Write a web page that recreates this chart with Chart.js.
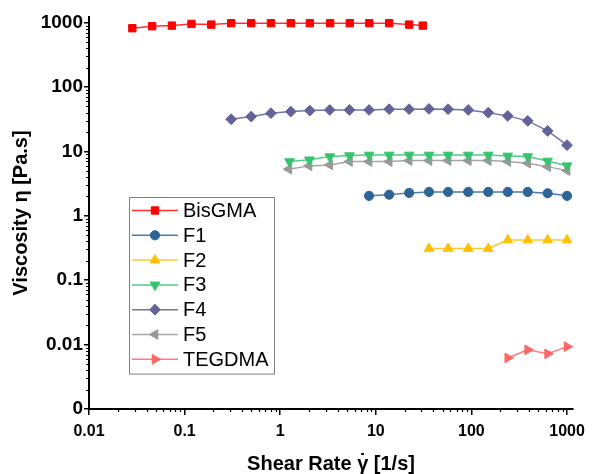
<!DOCTYPE html>
<html>
<head>
<meta charset="utf-8">
<script src="https://cdn.jsdelivr.net/npm/chart.js"></script>
<style>
  body { margin: 0; background: #fff; }
</style>
</head>
<body>
<canvas id="visc" width="592" height="474"></canvas>
<script>
// shear rate grids (1/s) and viscosities (Pa.s)
const bisgmaX = [0.0284, 0.0458, 0.0736, 0.118, 0.19, 0.307, 0.497, 0.8, 1.29, 2.04, 3.33, 5.34, 8.55, 13.8, 22.3, 31]
const bisgmaY = [818, 879, 898, 955, 931, 979, 979, 979, 979, 979, 979, 979, 979, 979, 931, 898]

const f1X = [8.5, 13.8, 22.3, 36, 57, 92.6, 150, 240, 388, 627, 1000]
const f1Y = [2.04, 2.13, 2.27, 2.35, 2.35, 2.35, 2.35, 2.35, 2.35, 2.24, 2.04]

const f2X = [36, 57, 92.6, 150, 240, 388, 627, 1000]
const f2Y = [0.31, 0.31, 0.31, 0.31, 0.42, 0.42, 0.42, 0.42]

const f3X = [1.25, 2.02, 3.3, 5.3, 8.5, 13.8, 22.3, 36, 57, 92.6, 150, 240, 388, 627, 1000]
const f3Y = [6.95, 7.4, 8.3, 8.6, 8.8, 8.8, 8.8, 8.8, 8.8, 8.8, 8.8, 8.5, 8.3, 7.1, 6.0]

const f4X = [0.307, 0.497, 0.8, 1.29, 2.04, 3.3, 5.3, 8.5, 13.8, 22.3, 36, 57, 92.6, 150, 240, 388, 627, 1000]
const f4Y = [31.6, 34.8, 39.2, 41.5, 43, 44, 44, 44, 45.2, 45.2, 45.7, 45.2, 44, 40, 35.6, 29.8, 20.8, 12.5]

const f5X = [1.23, 2.0, 3.3, 5.3, 8.5, 13.8, 22.3, 36, 57, 92.6, 150, 240, 388, 627, 1000]
const f5Y = [5.3, 5.96, 6.17, 6.95, 6.95, 6.95, 7.2, 7.2, 7.2, 7.2, 7.2, 6.95, 6.56, 5.8, 5.03]

const tegdmaX = [240, 388, 627, 1000]
const tegdmaY = [0.0062, 0.0083, 0.0072, 0.0093]

const xTicks = [0.01, 0.1, 1, 10, 100, 1000]
const xTickLabels = ["0.01", "0.1", "1", "10", "100", "1000"]
const yTicks = [0.001, 0.01, 0.1, 1, 10, 100, 1000]
const yTickLabels = ["0", "0.01", "0.1", "1", "10", "100", "1000"]

const FONT = 'Arial, "Liberation Sans", sans-serif'
const X_TITLE_PRE = "Shear Rate "
const X_TITLE = X_TITLE_PRE + "\u03b3 [1/s]"

function pts(xs, ys) {
    return xs.map((x, i) => ({x: x, y: ys[i]}))
}

function series(label, xs, ys, marker, line, style, radius, rot) {
    return {
        label: label,
        data: pts(xs, ys),
        borderColor: line,
        borderWidth: 1.5,
        backgroundColor: marker,
        pointBackgroundColor: marker,
        pointBorderColor: marker,
        pointBorderWidth: 1,
        pointStyle: style,
        pointRadius: radius,
        pointRotation: rot || 0,
        tension: 0,
        fill: false
    }
}

const datasets = [
    series("BisGMA", bisgmaX, bisgmaY, "#ff0000", "#ff3030", "rect", 5.2),
    series("F1", f1X, f1Y, "#2e6496", "#4a7bb0", "circle", 4.6),
    series("F2", f2X, f2Y, "#ffc000", "#ffc833", "triangle", 5.6),
    series("F3", f3X, f3Y, "#35c46c", "#50cc80", "triangle", 5.6, 180),
    series("F4", f4X, f4Y, "#636399", "#7474a8", "rectRot", 5.4),
    series("F5", f5X, f5Y, "#999999", "#a6a6a6", "triangle", 5.6, 270),
    series("TEGDMA", tegdmaX, tegdmaY, "#ff6666", "#ff7a7a", "triangle", 5.6, 90),
]

// short ticks between the decades
const minorTicks = {
    id: "minorTicks",
    afterDraw(chart) {
        const ctx = chart.ctx
        const xs = chart.scales.x, ys = chart.scales.y
        ctx.save()
        ctx.strokeStyle = "#000"
        ctx.lineWidth = 1.2
        ctx.beginPath()
        for (let e = -3; e <= 3; e++) {
            for (let k = 2; k <= 9; k++) {
                const v = k * Math.pow(10, e)
                if (v > xs.min && v < xs.max) {
                    const px = Math.round(xs.getPixelForValue(v)) + 0.5
                    ctx.moveTo(px, xs.top)
                    ctx.lineTo(px, xs.top + 3)
                }
                if (v > ys.min && v < ys.max) {
                    const py = Math.round(ys.getPixelForValue(v)) + 0.5
                    ctx.moveTo(ys.right, py)
                    ctx.lineTo(ys.right - 3, py)
                }
            }
        }
        ctx.stroke()
        ctx.restore()
    }
}

// overdot on the gamma of the x title (shear rate)
const gammaDot = {
    id: "gammaDot",
    afterDraw(chart) {
        const ctx = chart.ctx
        const xs = chart.scales.x
        ctx.save()
        ctx.font = "bold 20px " + FONT
        const full = ctx.measureText(X_TITLE).width
        const pre = ctx.measureText(X_TITLE_PRE).width
        const g = ctx.measureText("\u03b3").width
        const cx = (xs.left + xs.right) / 2 - full / 2 + pre + g / 2
        ctx.fillStyle = "#000"
        ctx.textAlign = "center"
        ctx.textBaseline = "middle"
        ctx.fillText("\u02d9", cx, 462)
        ctx.restore()
    }
}

// boxed legend inside the plot, line + marker per series
const boxLegend = {
    id: "boxLegend",
    afterDraw(chart) {
        const ctx = chart.ctx
        const ca = chart.chartArea
        const left = ca.left + 40, top = ca.top + 180
        const w = 145, rowH = 24.8
        const h = rowH * chart.data.datasets.length + 3
        ctx.save()
        ctx.fillStyle = "#fff"
        ctx.fillRect(left, top, w, h)
        ctx.strokeStyle = "#808080"
        ctx.lineWidth = 1
        ctx.strokeRect(left + 0.5, top + 0.5, w, h)
        chart.data.datasets.forEach((ds, i) => {
            const cy = top + 13.5 + i * rowH
            ctx.strokeStyle = ds.borderColor
            ctx.lineWidth = 1.5
            ctx.beginPath()
            ctx.moveTo(left + 3, cy)
            ctx.lineTo(left + 49, cy)
            ctx.stroke()
            ctx.fillStyle = ds.pointBackgroundColor
            ctx.strokeStyle = ds.pointBorderColor
            ctx.lineWidth = 1
            Chart.helpers.drawPoint(ctx, {
                pointStyle: ds.pointStyle,
                radius: ds.pointRadius,
                rotation: ds.pointRotation,
                borderWidth: 1
            }, left + 26, cy)
            ctx.fillStyle = "#000"
            ctx.font = "20px " + FONT
            ctx.textBaseline = "middle"
            ctx.textAlign = "left"
            ctx.fillText(ds.label, left + 54, cy + 1)
        })
        ctx.restore()
    }
}

const ctx = document.getElementById("visc")
const viscChart = new Chart(ctx, {
    type: "line",
    data: {datasets: datasets},
    plugins: [minorTicks, gammaDot, boxLegend],
    options: {
        responsive: false,
        animation: false,
        layout: {padding: {top: 17, right: 14, left: 0, bottom: 0}},
        plugins: {
            legend: {display: false},
            tooltip: {enabled: false}
        },
        scales: {
            x: {
                type: "logarithmic",
                min: 0.01,
                max: 1155,
                afterBuildTicks: s => { s.ticks = xTicks.map(v => ({value: v})) },
                afterFit: s => { s.height = 65 },
                grid: {display: true, drawOnChartArea: false, tickLength: 6, color: "#000", lineWidth: 1.5},
                border: {display: true, color: "#000", width: 2},
                ticks: {
                    autoSkip: false,
                    maxRotation: 0,
                    padding: 7,
                    color: "#000",
                    font: {family: FONT, size: 16, weight: "bold"},
                    callback: (v, i) => xTickLabels[i]
                },
                title: {
                    display: true,
                    text: X_TITLE,
                    color: "#000",
                    font: {family: FONT, size: 20, weight: "bold", lineHeight: 1},
                    padding: {top: 0, bottom: 0}
                }
            },
            y: {
                type: "logarithmic",
                min: 0.001,
                max: 1222,
                afterBuildTicks: s => { s.ticks = yTicks.map(v => ({value: v})) },
                afterFit: s => { s.width = 89 },
                grid: {display: true, drawOnChartArea: false, tickLength: 5, color: "#000", lineWidth: 1.5},
                border: {display: true, color: "#000", width: 2},
                ticks: {
                    autoSkip: false,
                    padding: 1,
                    color: "#000",
                    font: {family: FONT, size: 19, weight: "bold"},
                    callback: (v, i) => yTickLabels[i]
                },
                title: {
                    display: true,
                    text: "Viscosity \u03b7 [Pa.s]",
                    color: "#000",
                    font: {family: FONT, size: 20, weight: "bold", lineHeight: 1.2},
                    padding: {top: 9, bottom: 0}
                }
            }
        }
    }
});
</script>
</body>
</html>
